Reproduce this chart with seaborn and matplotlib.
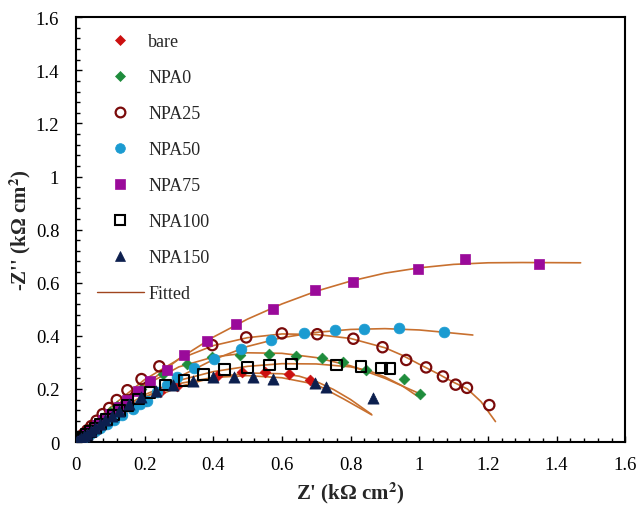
import matplotlib
matplotlib.use("Agg")
import matplotlib.pyplot as plt
from matplotlib.lines import Line2D
from matplotlib.ticker import MultipleLocator, FormatStrFormatter
import seaborn as sns
import pandas as pd

# ---------------- data ----------------
bare_x = [0.005, 0.01, 0.02, 0.03, 0.04, 0.055, 0.07, 0.09, 0.11, 0.135, 0.165, 0.204, 0.245, 0.293,
          0.41, 0.483, 0.551, 0.622, 0.682]
bare_y = [0.005, 0.009, 0.017, 0.025, 0.033, 0.045, 0.057, 0.072, 0.088, 0.108, 0.130, 0.156, 0.187, 0.212,
          0.247, 0.262, 0.263, 0.256, 0.234]

npa0_x = [0.005, 0.01, 0.02, 0.03, 0.045, 0.06, 0.08, 0.1, 0.12, 0.15, 0.19, 0.255, 0.323, 0.395, 0.478,
          0.563, 0.641, 0.716, 0.777, 0.845, 0.957, 1.003]
npa0_y = [0.006, 0.012, 0.024, 0.036, 0.053, 0.07, 0.092, 0.113, 0.134, 0.163, 0.2, 0.255, 0.294, 0.319, 0.328,
          0.332, 0.323, 0.315, 0.300, 0.273, 0.237, 0.181]

npa25_x = [0.005, 0.012, 0.022, 0.033, 0.045, 0.06, 0.078, 0.097, 0.119, 0.150, 0.191, 0.243, 0.397, 0.496,
           0.6, 0.703, 0.808, 0.893, 0.962, 1.020, 1.069, 1.106, 1.139, 1.204]
npa25_y = [0.007, 0.016, 0.029, 0.044, 0.06, 0.08, 0.105, 0.128, 0.158, 0.195, 0.237, 0.285, 0.365, 0.394,
           0.409, 0.406, 0.389, 0.357, 0.309, 0.281, 0.247, 0.216, 0.204, 0.139]

npa50_x = [0.005, 0.01, 0.02, 0.03, 0.04, 0.055, 0.07, 0.09, 0.11, 0.135, 0.165, 0.187, 0.206, 0.235, 0.264,
           0.293, 0.345, 0.402, 0.48, 0.568, 0.663, 0.755, 0.839, 0.94, 1.073]
npa50_y = [0.004, 0.007, 0.014, 0.021, 0.029, 0.04, 0.051, 0.066, 0.081, 0.1, 0.124, 0.143, 0.156, 0.19, 0.215,
           0.243, 0.277, 0.312, 0.352, 0.385, 0.41, 0.422, 0.425, 0.43, 0.415]

npa75_x = [0.005, 0.01, 0.02, 0.03, 0.045, 0.06, 0.08, 0.1, 0.125, 0.15, 0.182, 0.216, 0.264, 0.315, 0.383,
           0.465, 0.573, 0.695, 0.806, 0.997, 1.132, 1.35]
npa75_y = [0.005, 0.01, 0.021, 0.031, 0.047, 0.063, 0.084, 0.105, 0.131, 0.158, 0.193, 0.231, 0.272, 0.328,
           0.381, 0.444, 0.5, 0.571, 0.601, 0.651, 0.689, 0.67]

npa100_x = [0.005, 0.01, 0.02, 0.03, 0.042, 0.056, 0.072, 0.09, 0.11, 0.128, 0.15, 0.182, 0.216, 0.262, 0.315,
            0.371, 0.432, 0.499, 0.563, 0.629, 0.758, 0.83, 0.889, 0.915]
npa100_y = [0.005, 0.01, 0.019, 0.029, 0.04, 0.053, 0.068, 0.085, 0.102, 0.118, 0.137, 0.162, 0.187, 0.215,
            0.233, 0.253, 0.272, 0.281, 0.29, 0.294, 0.29, 0.285, 0.279, 0.277]

npa150_x = [0.004, 0.008, 0.015, 0.023, 0.032, 0.043, 0.056, 0.07, 0.086, 0.105, 0.126, 0.155, 0.189, 0.233,
            0.284, 0.342, 0.4, 0.459, 0.517, 0.575, 0.695, 0.729, 0.865]
npa150_y = [0.004, 0.008, 0.015, 0.022, 0.031, 0.041, 0.053, 0.066, 0.081, 0.099, 0.118, 0.143, 0.168, 0.193,
            0.215, 0.231, 0.244, 0.244, 0.244, 0.239, 0.221, 0.206, 0.164]

# fitted curves
fit_bare_x = [0, 0.05, 0.1, 0.2, 0.3, 0.4, 0.5, 0.6, 0.65, 0.7, 0.75, 0.8, 0.86]
fit_bare_y = [0, 0.04, 0.08, 0.152, 0.208, 0.243, 0.26, 0.257, 0.248, 0.228, 0.198, 0.16, 0.105]

fit_npa0_x = [0, 0.05, 0.1, 0.2, 0.3, 0.4, 0.5, 0.6, 0.7, 0.8, 0.9, 1.003]
fit_npa0_y = [0, 0.062, 0.12, 0.213, 0.283, 0.32, 0.336, 0.334, 0.318, 0.287, 0.24, 0.181]

fit_npa25_x = [0, 0.05, 0.1, 0.2, 0.3, 0.4, 0.5, 0.6, 0.7, 0.8, 0.9, 0.95, 1.0, 1.05, 1.1, 1.14, 1.18, 1.222]
fit_npa25_y = [0, 0.068, 0.13, 0.235, 0.312, 0.363, 0.393, 0.407, 0.405, 0.39, 0.355, 0.327, 0.293, 0.26, 0.225,
               0.2, 0.152, 0.077]

fit_npa50_x = [0, 0.05, 0.1, 0.2, 0.3, 0.4, 0.5, 0.6, 0.7, 0.8, 0.9, 1.0, 1.1, 1.156]
fit_npa50_y = [0, 0.037, 0.076, 0.165, 0.245, 0.31, 0.36, 0.393, 0.413, 0.424, 0.427, 0.422, 0.41, 0.403]

fit_npa75_x = [0, 0.05, 0.1, 0.2, 0.3, 0.4, 0.5, 0.6, 0.7, 0.8, 0.9, 1.0, 1.1, 1.2, 1.3, 1.47]
fit_npa75_y = [0, 0.053, 0.106, 0.213, 0.313, 0.395, 0.463, 0.52, 0.568, 0.606, 0.636, 0.656, 0.669, 0.675,
               0.676, 0.675]

fit_npa100_x = [0, 0.05, 0.1, 0.2, 0.3, 0.4, 0.5, 0.6, 0.7, 0.8, 0.85, 0.9, 0.95, 0.993]
fit_npa100_y = [0, 0.05, 0.1, 0.178, 0.232, 0.265, 0.285, 0.295, 0.294, 0.283, 0.27, 0.245, 0.212, 0.174]

fit_npa150_x = [0, 0.05, 0.1, 0.2, 0.3, 0.4, 0.5, 0.6, 0.7, 0.78, 0.862]
fit_npa150_y = [0, 0.048, 0.095, 0.17, 0.22, 0.243, 0.25, 0.242, 0.217, 0.162, 0.102]

labels = ["bare", "NPA0", "NPA25", "NPA50", "NPA75", "NPA100", "NPA150"]
xticks = [0, 0.2, 0.4, 0.6, 0.8, 1.0, 1.2, 1.4, 1.6]
yticks = [0, 0.2, 0.4, 0.6, 0.8, 1.0, 1.2, 1.4, 1.6]

# ---------------- style ----------------
sns.set_theme(style="ticks")
plt.rcParams["font.family"] = ["Liberation Serif", "DejaVu Serif"]
plt.rcParams["mathtext.fontset"] = "stix"

fig = plt.figure(figsize=(6.38, 5.06), dpi=100)
ax = fig.add_axes([0.119, 0.1245, 0.861, 0.8395])

fit_color = "#c8702f"
fits = [(fit_bare_x, fit_bare_y), (fit_npa0_x, fit_npa0_y), (fit_npa25_x, fit_npa25_y),
        (fit_npa50_x, fit_npa50_y), (fit_npa75_x, fit_npa75_y), (fit_npa100_x, fit_npa100_y),
        (fit_npa150_x, fit_npa150_y)]
for fx, fy in fits:
    sns.lineplot(x=fx, y=fy, ax=ax, color=fit_color, lw=1.2, sort=False, estimator=None, zorder=2)

series = [
    (bare_x, bare_y, dict(marker="D", s=30, color="#cc1010", edgecolor="#cc1010", linewidth=0.5)),
    (npa0_x, npa0_y, dict(marker="D", s=30, color="#1e8c3c", edgecolor="#1e8c3c", linewidth=0.5)),
    (npa25_x, npa25_y, dict(marker="o", s=55, facecolor="none", edgecolor="#7a0a0a", linewidth=1.6)),
    (npa50_x, npa50_y, dict(marker="o", s=60, color="#1b9bd1", edgecolor="#1b9bd1", linewidth=0.5)),
    (npa75_x, npa75_y, dict(marker="s", s=60, color="#9a0a9a", edgecolor="#9a0a9a", linewidth=0.5)),
    (npa100_x, npa100_y, dict(marker="s", s=60, facecolor="none", edgecolor="black", linewidth=1.5)),
    (npa150_x, npa150_y, dict(marker="^", s=65, color="#0c1f4e", edgecolor="#0c1f4e", linewidth=0.5)),
]
for i, (sx, sy, kw) in enumerate(series):
    df = pd.DataFrame({"x": sx, "y": sy})
    sns.scatterplot(data=df, x="x", y="y", ax=ax, zorder=3 + i, legend=False, **kw)

ax.set_xlim(0, 1.6)
ax.set_ylim(0, 1.6)
ax.set_xticks(xticks)
ax.set_yticks(yticks)
ax.xaxis.set_major_formatter(FormatStrFormatter("%g"))
ax.yaxis.set_major_formatter(FormatStrFormatter("%g"))
ax.xaxis.set_minor_locator(MultipleLocator(0.04))
ax.yaxis.set_minor_locator(MultipleLocator(0.04))
ax.tick_params(which="both", direction="in", top=False, right=False, labelsize=13.5, colors="black")
ax.tick_params(which="major", length=4.5, width=1.0)
ax.tick_params(axis="x", which="major", pad=10)
ax.tick_params(axis="y", which="major", pad=12)
ax.tick_params(which="minor", length=3, width=1.0)
for sp in ax.spines.values():
    sp.set_visible(True)
    sp.set_linewidth(1.5)
    sp.set_color("black")

ax.set_xlabel("Z' (kΩ cm$^\\mathbf{2}$)", fontsize=15, fontweight="bold", labelpad=5)
ax.set_ylabel("-Z'' (kΩ cm$^\\mathbf{2}$)", fontsize=15, fontweight="bold", labelpad=2)

# legend
handles = []
for (sx, sy, kw), lab in zip(series, labels):
    fc = kw.get("facecolor", kw.get("color"))
    ec = kw.get("edgecolor")
    ms = {"D": 5.5, "o": 7, "s": 7, "^": 7.5}[kw["marker"]]
    handles.append(Line2D([], [], ls="none", marker=kw["marker"], markersize=ms,
                          markerfacecolor=fc, markeredgecolor=ec,
                          markeredgewidth=kw.get("linewidth", 0.5), label=lab))
handles.append(Line2D([], [], color="#a0451e", lw=1.0, label="Fitted"))
ax.legend(handles=handles, loc="upper left", bbox_to_anchor=(0.008, 1.0), frameon=False,
          fontsize=13, labelspacing=1.05, handlelength=2.6, handletextpad=0.25, borderpad=0.4)

fig.savefig("out.png", dpi=100)
